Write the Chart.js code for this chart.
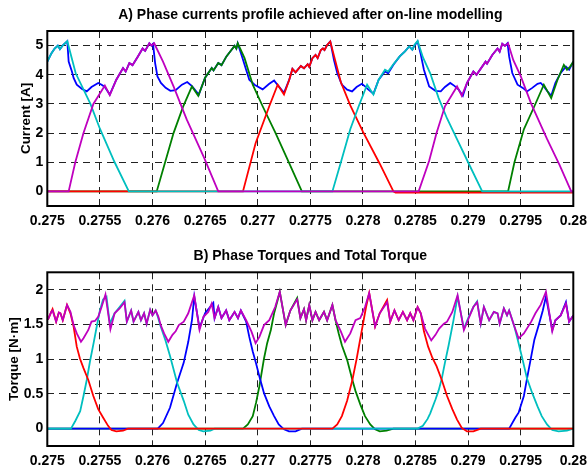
<!DOCTYPE html>
<html><head><meta charset="utf-8">
<script src="https://cdn.jsdelivr.net/npm/chart.js@4.4.1/dist/chart.umd.min.js"></script>
<style>
html,body{margin:0;padding:0;background:#fff;width:587px;height:466px;overflow:hidden}
canvas{position:absolute;left:0}
#c1{top:0}
#c2{top:233px}
</style></head><body>
<canvas id="c1" width="587" height="233"></canvas>
<canvas id="c2" width="587" height="233"></canvas>
<script>
// ---------- tick labels ----------
const timeTicks = [0.275,0.2755,0.276,0.2765,0.277,0.2775,0.278,0.2785,0.279,0.2795,0.28];
const timeTickLabels = ['0.275','0.2755','0.276','0.2765','0.277','0.2775','0.278','0.2785','0.279','0.2795','0.28'];
const currentTicks = [0,1,2,3,4,5];
const currentTickLabels = ['0','1','2','3','4','5'];
const torqueTicks = [0,0.5,1,1.5,2];
const torqueTickLabels = ['0','0.5','1','1.5','2'];

// ---------- A) phase currents [time s, current A] ----------
const currentRef = [[0.275000,4.45],[0.275040,4.74],[0.275070,4.90],[0.275100,5.00],[0.275120,4.88],[0.275150,5.02],[0.275190,5.15],[0.275203,4.45],[0.275234,4.11],[0.275250,3.89],[0.275280,3.66],[0.275330,3.51],[0.275375,3.43],[0.275420,3.58],[0.275484,3.72],[0.275516,3.66],[0.275547,3.58],[0.275594,3.32],[0.275656,3.83],[0.275720,4.23],[0.275745,4.11],[0.275780,4.40],[0.275810,4.33],[0.275860,4.62],[0.275906,4.90],[0.275930,4.82],[0.275970,5.08],[0.275990,5.00],[0.276005,5.06],[0.276025,4.40],[0.276047,3.94],[0.276080,3.72],[0.276125,3.55],[0.276170,3.45],[0.276220,3.47],[0.276280,3.66],[0.276330,3.75],[0.276375,3.61],[0.276440,3.32],[0.276500,3.90],[0.276563,4.23],[0.276580,4.15],[0.276625,4.40],[0.276656,4.33],[0.276703,4.63],[0.276750,4.85],[0.276780,4.99],[0.276797,4.90],[0.276810,5.08],[0.276853,4.60],[0.276890,4.17],[0.276920,3.83],[0.276970,3.66],[0.277047,3.50],[0.277110,3.69],[0.277156,3.80],[0.277180,3.69],[0.277200,3.60],[0.277250,3.38],[0.277300,3.83],[0.277330,4.20],[0.277360,4.08],[0.277410,4.30],[0.277440,4.22],[0.277475,4.36],[0.277490,4.27],[0.277520,4.57],[0.277550,4.68],[0.277570,4.57],[0.277600,4.85],[0.277620,4.90],[0.277635,4.85],[0.277660,5.02],[0.277690,5.14],[0.277700,4.97],[0.277725,4.50],[0.277756,4.06],[0.277800,3.66],[0.277850,3.49],[0.277897,3.43],[0.277940,3.58],[0.277990,3.69],[0.278020,3.60],[0.278050,3.50],[0.278100,3.35],[0.278150,3.83],[0.278210,4.11],[0.278240,4.05],[0.278290,4.34],[0.278350,4.63],[0.278400,4.80],[0.278440,4.97],[0.278470,4.86],[0.278490,5.00],[0.278520,5.14],[0.278550,4.70],[0.278580,4.17],[0.278630,3.60],[0.278690,3.45],[0.278740,3.43],[0.278780,3.58],[0.278830,3.72],[0.278870,3.62],[0.278910,3.49],[0.278950,3.28],[0.278990,3.72],[0.279050,4.11],[0.279080,4.00],[0.279166,4.45],[0.279180,4.38],[0.279230,4.68],[0.279280,4.90],[0.279300,4.79],[0.279325,5.06],[0.279350,4.99],[0.279375,5.08],[0.279390,4.63],[0.279420,4.06],[0.279470,3.66],[0.279520,3.55],[0.279560,3.43],[0.279610,3.55],[0.279660,3.69],[0.279690,3.72],[0.279720,3.60],[0.279755,3.43],[0.279790,3.28],[0.279830,3.72],[0.279880,4.06],[0.279930,4.28],[0.279960,4.17],[0.280000,4.45]];
const currentCyan = [[0.275000,4.45],[0.275040,4.74],[0.275070,4.90],[0.275100,5.00],[0.275120,4.88],[0.275150,5.02],[0.275190,5.15],[0.275270,4.05],[0.275410,3.00],[0.275500,2.15],[0.275640,1.00],[0.275775,0],[0.277710,0],[0.277790,0.99],[0.277880,2.13],[0.277960,2.92],[0.278040,3.66],[0.278100,3.32],[0.278150,3.83],[0.278210,4.17],[0.278240,4.11],[0.278290,4.36],[0.278350,4.63],[0.278400,4.80],[0.278440,4.97],[0.278470,4.86],[0.278490,5.02],[0.278520,5.16],[0.278570,4.60],[0.278640,4.05],[0.278720,3.20],[0.278800,2.50],[0.278900,1.75],[0.279000,1.00],[0.279134,0],[0.280000,0]];
const currentMagenta = [[0.275000,0],[0.275203,0],[0.275266,1.00],[0.275344,2.00],[0.275438,3.00],[0.275547,3.63],[0.275594,3.30],[0.275656,3.83],[0.275720,4.23],[0.275745,4.11],[0.275780,4.40],[0.275810,4.33],[0.275860,4.62],[0.275906,4.90],[0.275930,4.82],[0.275970,5.08],[0.275990,5.00],[0.276016,5.08],[0.276100,4.45],[0.276200,3.60],[0.276325,2.47],[0.276490,1.16],[0.276625,0],[0.278530,0],[0.278630,1.05],[0.278700,2.00],[0.278780,2.92],[0.278895,3.60],[0.278940,3.28],[0.278990,3.72],[0.279050,4.11],[0.279080,4.00],[0.279166,4.45],[0.279180,4.38],[0.279230,4.68],[0.279280,4.90],[0.279300,4.79],[0.279325,5.06],[0.279350,4.99],[0.279380,5.08],[0.279430,4.50],[0.279500,3.95],[0.279600,3.00],[0.279750,1.80],[0.279870,0.90],[0.279980,0],[0.280000,0]];
const currentGreen = [[0.275000,0],[0.276040,0],[0.276120,1.00],[0.276200,2.00],[0.276290,2.90],[0.276375,3.60],[0.276435,3.28],[0.276500,3.90],[0.276563,4.23],[0.276580,4.15],[0.276625,4.40],[0.276656,4.33],[0.276703,4.63],[0.276750,4.85],[0.276780,4.99],[0.276797,4.90],[0.276810,5.08],[0.276875,4.57],[0.276953,3.66],[0.277047,2.92],[0.277170,2.00],[0.277297,0.99],[0.277420,0],[0.279380,0],[0.279440,0.99],[0.279530,2.13],[0.279630,2.92],[0.279720,3.66],[0.279790,3.20],[0.279850,3.83],[0.279910,4.34],[0.279940,4.17],[0.279970,4.28],[0.280000,4.45]];
const currentRed = [[0.275000,0],[0.276860,0],[0.276980,1.65],[0.277110,2.92],[0.277190,3.66],[0.277250,3.32],[0.277300,3.83],[0.277330,4.20],[0.277360,4.08],[0.277410,4.30],[0.277440,4.22],[0.277475,4.36],[0.277490,4.27],[0.277520,4.57],[0.277550,4.68],[0.277570,4.57],[0.277600,4.85],[0.277620,4.90],[0.277635,4.85],[0.277660,5.02],[0.277690,5.14],[0.277790,3.75],[0.277880,2.95],[0.278000,2.05],[0.278160,0.95],[0.278290,0],[0.278310,-0.04],[0.280000,-0.04]];

// ---------- B) phase torques and total torque [time s, torque N·m] ----------
const torqueTotal = [[0.275006,1.57],[0.2750375,1.68],[0.275050,1.70],[0.275084,1.54],[0.275110,1.67],[0.275125,1.66],[0.275147,1.56],[0.2751875,1.78],[0.275220,1.68],[0.275250,1.49],[0.275280,1.37],[0.275320,1.25],[0.275344,1.30],[0.275390,1.42],[0.275420,1.54],[0.275453,1.55],[0.275484,1.61],[0.275516,1.75],[0.275553,1.93],[0.275600,1.43],[0.275640,1.66],[0.2756875,1.73],[0.275734,1.82],[0.275756,1.54],[0.275797,1.70],[0.275820,1.54],[0.275866,1.68],[0.275890,1.56],[0.275920,1.66],[0.275944,1.51],[0.275978,1.71],[0.276000,1.63],[0.276030,1.70],[0.276056,1.61],[0.276078,1.49],[0.276110,1.37],[0.276150,1.25],[0.276190,1.35],[0.276220,1.40],[0.276250,1.49],[0.276297,1.54],[0.276340,1.66],[0.276397,1.92],[0.276447,1.42],[0.276484,1.61],[0.276530,1.68],[0.2765625,1.80],[0.276590,1.59],[0.276625,1.75],[0.276656,1.59],[0.276700,1.70],[0.276730,1.56],[0.276780,1.68],[0.2768125,1.59],[0.276840,1.70],[0.276890,1.56],[0.276940,1.40],[0.276980,1.23],[0.277016,1.32],[0.277060,1.49],[0.277110,1.56],[0.277166,1.75],[0.277210,1.97],[0.277266,1.49],[0.277310,1.70],[0.277375,1.86],[0.277406,1.59],[0.277440,1.72],[0.277460,1.56],[0.277490,1.78],[0.277520,1.56],[0.277550,1.68],[0.277584,1.56],[0.277630,1.68],[0.277660,1.56],[0.277710,1.78],[0.277740,1.56],[0.277790,1.40],[0.277830,1.25],[0.277880,1.37],[0.277930,1.56],[0.277975,1.59],[0.278020,1.75],[0.278060,1.95],[0.278116,1.47],[0.278160,1.66],[0.278230,1.82],[0.278260,1.54],[0.278300,1.70],[0.278340,1.56],[0.278380,1.68],[0.278420,1.56],[0.278450,1.66],[0.278480,1.56],[0.278520,1.75],[0.278550,1.66],[0.278590,1.44],[0.278650,1.27],[0.278690,1.35],[0.278725,1.44],[0.278770,1.51],[0.278800,1.54],[0.278850,1.68],[0.278900,1.92],[0.278960,1.42],[0.279006,1.59],[0.279050,1.75],[0.279086,1.82],[0.279120,1.51],[0.279150,1.75],[0.279200,1.56],[0.279245,1.68],[0.279280,1.66],[0.279300,1.51],[0.279340,1.73],[0.279370,1.63],[0.279390,1.70],[0.279440,1.47],[0.279480,1.30],[0.279530,1.37],[0.279600,1.54],[0.279640,1.66],[0.279690,1.78],[0.279740,1.97],[0.279800,1.40],[0.279830,1.56],[0.279880,1.63],[0.279930,1.80],[0.279960,1.54],[0.280000,1.63]];
const torqueRed = [[0.275006,1.57],[0.2750375,1.68],[0.275050,1.72],[0.275084,1.54],[0.275110,1.67],[0.275125,1.66],[0.275147,1.56],[0.2751875,1.78],[0.275220,1.66],[0.275250,1.47],[0.275280,1.18],[0.275310,1.01],[0.275344,0.87],[0.275390,0.70],[0.2754375,0.47],[0.275484,0.28],[0.275530,0.16],[0.275578,0.04],[0.275610,-0.02],[0.275656,-0.04],[0.275720,-0.03],[0.275766,0],[0.277710,0],[0.277756,0.06],[0.277800,0.18],[0.277850,0.40],[0.277900,0.70],[0.277940,1.00],[0.277970,1.25],[0.278000,1.50],[0.278030,1.75],[0.278060,1.95],[0.278116,1.47],[0.278160,1.66],[0.278230,1.85],[0.278260,1.54],[0.278300,1.70],[0.278340,1.56],[0.278380,1.68],[0.278420,1.56],[0.278450,1.66],[0.278480,1.56],[0.278520,1.75],[0.278550,1.66],[0.278580,1.40],[0.278620,1.18],[0.278660,1.02],[0.278700,0.90],[0.278750,0.70],[0.278800,0.47],[0.278850,0.28],[0.278895,0.13],[0.278940,0.01],[0.278990,-0.04],[0.279050,-0.04],[0.279120,0],[0.280000,0]];
const torqueCyan = [[0.275000,0],[0.275225,0],[0.275266,0.11],[0.2753125,0.25],[0.275344,0.47],[0.275375,0.70],[0.275406,0.97],[0.275440,1.23],[0.275470,1.47],[0.275500,1.70],[0.275530,1.86],[0.2755625,1.90],[0.275594,1.51],[0.275640,1.66],[0.2756875,1.75],[0.275734,1.84],[0.275756,1.54],[0.275797,1.70],[0.275820,1.54],[0.275866,1.68],[0.275890,1.56],[0.275920,1.66],[0.275944,1.51],[0.275978,1.71],[0.276000,1.63],[0.276030,1.70],[0.276047,1.63],[0.276078,1.47],[0.276125,1.26],[0.276166,1.05],[0.276234,0.66],[0.276297,0.40],[0.276340,0.20],[0.276390,0.06],[0.276440,-0.02],[0.276484,-0.04],[0.276550,-0.03],[0.276590,0],[0.278520,0],[0.278570,0.04],[0.278615,0.14],[0.278640,0.22],[0.278690,0.42],[0.278720,0.55],[0.278750,0.72],[0.278780,0.95],[0.278815,1.20],[0.278860,1.55],[0.278900,1.90],[0.278960,1.44],[0.279006,1.61],[0.279050,1.75],[0.279086,1.83],[0.279120,1.51],[0.279150,1.75],[0.279200,1.56],[0.279245,1.68],[0.279280,1.66],[0.279300,1.51],[0.279340,1.73],[0.279370,1.63],[0.279390,1.70],[0.279440,1.47],[0.279480,1.23],[0.279520,0.98],[0.279560,0.72],[0.279610,0.51],[0.279660,0.32],[0.279700,0.18],[0.279750,0.06],[0.279800,-0.02],[0.279860,-0.04],[0.279940,-0.03],[0.280000,0]];
const torqueBlue = [[0.275000,0],[0.276050,0],[0.276100,0.08],[0.276166,0.30],[0.276234,0.66],[0.276297,0.95],[0.276340,1.25],[0.276375,1.56],[0.276397,1.90],[0.276447,1.45],[0.276500,1.66],[0.276547,1.75],[0.276578,1.81],[0.276590,1.59],[0.276625,1.75],[0.276656,1.59],[0.276700,1.70],[0.276730,1.56],[0.276780,1.68],[0.2768125,1.59],[0.276840,1.70],[0.276890,1.54],[0.276920,1.32],[0.276953,1.11],[0.276984,0.94],[0.277016,0.75],[0.277060,0.51],[0.277110,0.32],[0.277156,0.18],[0.277200,0.06],[0.277250,-0.01],[0.277297,-0.04],[0.277360,-0.04],[0.277420,0],[0.279390,0],[0.279450,0.16],[0.279480,0.23],[0.279530,0.47],[0.279560,0.72],[0.279600,1.04],[0.279630,1.28],[0.279675,1.51],[0.279710,1.70],[0.279740,1.90],[0.279800,1.42],[0.279830,1.56],[0.279880,1.63],[0.279930,1.82],[0.279960,1.54],[0.280000,1.63]];
const torqueGreen = [[0.275000,0],[0.276860,0],[0.276906,0.06],[0.276953,0.18],[0.276984,0.37],[0.277016,0.61],[0.277060,1.01],[0.277090,1.23],[0.277125,1.42],[0.277156,1.66],[0.277190,1.85],[0.277210,1.97],[0.277266,1.49],[0.277310,1.70],[0.277375,1.88],[0.277406,1.59],[0.277440,1.72],[0.277460,1.56],[0.277490,1.78],[0.277520,1.56],[0.277550,1.68],[0.277584,1.56],[0.277630,1.68],[0.277660,1.56],[0.277710,1.78],[0.277740,1.56],[0.277770,1.37],[0.277800,1.20],[0.277850,0.99],[0.277900,0.70],[0.277930,0.54],[0.277975,0.35],[0.278020,0.18],[0.278070,0.06],[0.278116,-0.01],[0.278160,-0.04],[0.278225,-0.03],[0.278290,0],[0.280000,0]];

// ---------- colours ----------
const C_RED = '#ff0000', C_GREEN = '#008000', C_BLUE = '#0000ff', C_CYAN = '#00bfbf', C_MAG = '#bf00bf';

Chart.defaults.font.family = '"Liberation Sans", Arial, Helvetica, sans-serif';
Chart.defaults.color = '#000';

const framePlugin = {
  id: 'frame',
  afterDatasetsDraw(chart) {
    const {ctx, chartArea: a} = chart;
    ctx.save();
    ctx.strokeStyle = '#000';
    ctx.lineWidth = 2;
    ctx.strokeRect(a.left, a.top, a.right - a.left, a.bottom - a.top);
    ctx.restore();
  }
};

function ds(data, color) {
  return {data, borderColor: color, backgroundColor: color, borderWidth: 1.8,
          pointRadius: 0, fill: false, tension: 0};
}

function makeChart(id, cfg) {
  return new Chart(document.getElementById(id), {
    type: 'line',
    data: {datasets: cfg.datasets},
    plugins: [framePlugin],
    options: {
      responsive: false, animation: false, devicePixelRatio: 1,
      layout: {padding: {left: 0, right: 13.7, top: 0, bottom: cfg.padBottom}},
      plugins: {
        legend: {display: false}, tooltip: {enabled: false},
        title: {display: true, text: cfg.title, fullSize: false, color: '#000',
                font: {size: 14, weight: 'bold', lineHeight: 1.2},
                padding: {top: cfg.titleTop, bottom: cfg.titleBottom}}
      },
      scales: {
        x: {
          type: 'linear', min: 0.275, max: 0.28,
          afterBuildTicks: s => { s.ticks = timeTicks.map(v => ({value: v})); },
          afterFit: s => { s.height = 20; s.paddingLeft = 0; s.paddingRight = 0; },
          grid: {color: '#222', lineWidth: 1, drawTicks: false},
          border: {display: false, dash: [7, 5]},
          ticks: {autoSkip: false, maxRotation: 0, padding: 7, color: '#000',
                  font: {size: 14, weight: 'bold'}, callback: (v, i) => timeTickLabels[i]}
        },
        y: {
          type: 'linear', min: cfg.ymin, max: cfg.ymax,
          afterBuildTicks: s => { s.ticks = cfg.yTicks.map(v => ({value: v})); },
          afterFit: s => { s.width = 47.3; s.paddingTop = 0; s.paddingBottom = 0; },
          grid: {color: '#222', lineWidth: 1, drawTicks: false},
          border: {display: false, dash: [7, 5]},
          ticks: {autoSkip: false, padding: 4, color: '#000',
                  font: {size: 14, weight: 'bold'}, callback: (v, i) => cfg.yLabels[i]},
          title: {display: true, text: cfg.yTitle, color: '#000',
                  font: {size: 13.5, weight: 'bold', lineHeight: 1.2},
                  padding: {top: cfg.yTitlePad, bottom: 0}}
        }
      }
    }
  });
}

makeChart('c1', {
  title: 'A) Phase currents profile achieved after on-line modelling',
  titleTop: 7.1, titleBottom: 7.1, padBottom: 7,
  ymin: -0.5, ymax: 5.5, yTicks: currentTicks, yLabels: currentTickLabels,
  yTitle: 'Current [A]', yTitlePad: 17.9,
  datasets: [ds(currentMagenta, C_MAG), ds(currentCyan, C_CYAN), ds(currentRed, C_RED),
             ds(currentGreen, C_GREEN), ds(currentRef, C_BLUE)]
});

makeChart('c2', {
  title: 'B) Phase Torques and Total Torque',
  titleTop: 15.1, titleBottom: 7.4, padBottom: 0,
  ymin: -0.25, ymax: 2.25, yTicks: torqueTicks, yLabels: torqueTickLabels,
  yTitle: 'Torque [N\u00b7m]', yTitlePad: 5.9,
  datasets: [ds(torqueTotal, C_MAG), ds(torqueRed, C_RED), ds(torqueCyan, C_CYAN),
             ds(torqueBlue, C_BLUE), ds(torqueGreen, C_GREEN)]
});
</script>
</body></html>
